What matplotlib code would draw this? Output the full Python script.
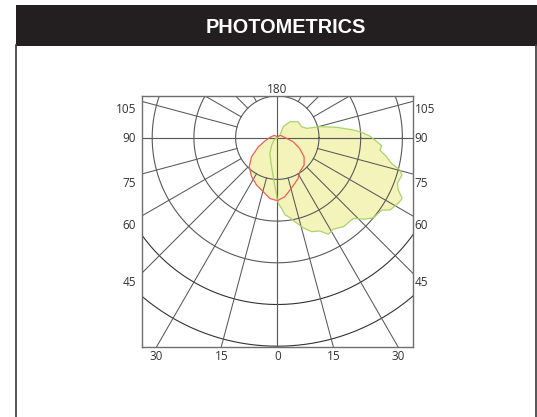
import matplotlib
matplotlib.use("Agg")
import matplotlib.pyplot as plt
import numpy as np

title = "PHOTOMETRICS"

# signed angle from nadir (positive = right side), intensity in ring units
green_angle = [180, 135, 151.4, 141.6, 127.3, 114.3, 107.7, 104.5, 99.9, 95.8, 93.6, 91, 87.7, 85.6, 83.1, 80.1, 77.3, 75.2, 73.3, 69.2, 66.6, 64.1, 61.5, 57.3, 55.3, 50.2, 47.1, 43.3, 36.6, 31.5, 27.8, 24.6, 20.1, 16.1, 11.9, 9, 5.7, 3.5, 1.4, 0, -0.7, -5.9, -13.9, -25.1, -37.7, -58, -180]
green_value = [0, 0.09, 0.30, 0.49, 0.63, 0.64, 0.74, 1.06, 1.45, 1.83, 2.03, 2.22, 2.39, 2.51, 2.48, 2.66, 2.81, 3.04, 3.12, 3.08, 3.16, 3.33, 3.30, 3.21, 3.05, 3.00, 2.87, 2.66, 2.66, 2.57, 2.62, 2.46, 2.40, 2.25, 2.06, 1.94, 1.86, 1.70, 1.60, 1.50, 1.38, 0.94, 0.63, 0.42, 0.22, 0.08, 0]

red_angle = [180, 126.4, 92.6, 75.7, 64.5, 54.5, 44.3, 33.3, 26.9, 15.4, 7.1, 0, -6.9, -14.5, -23.6, -33.4, -44, -53.5, -64.7, -74.9, -92.6, -126.4, -180]
red_value = [0.024, 0.094, 0.176, 0.39, 0.59, 0.79, 0.92, 0.98, 1.10, 1.26, 1.43, 1.51, 1.47, 1.34, 1.24, 1.12, 0.97, 0.77, 0.50, 0.31, 0.176, 0.094, 0.024]

ring_values = [1, 2, 3, 4, 5]
spoke_angles = np.arange(-180, 181, 15)

bottom_labels = ["30", "15", "0", "15", "30"]
bottom_angles = [-30, -15, 0, 15, 30]
side_labels = ["105", "90", "75", "60", "45"]
side_y_px = [109.5, 138.5, 183, 225.5, 282]

W, H = 537, 417
cx, cy = 277.3, 137.7
ring_px = 41.7
frame_l, frame_r, frame_t, frame_b = 141.7, 413, 95.7, 346.7


def to_xy(angle, value):
    a = np.radians(np.asarray(angle, dtype=float))
    v = np.asarray(value, dtype=float)
    return v * np.sin(a), -v * np.cos(a)


fig = plt.figure(figsize=(W / 100, H / 100), dpi=100)

# page level artists in pixel coordinates
page = fig.add_axes([0, 0, 1, 1])
page.set_xlim(0, W)
page.set_ylim(H, 0)
page.axis("off")
page.add_patch(plt.Rectangle((15.5, 5), 521, 40.5, color="#231f20", lw=0))
page.plot([16, 16], [45, 417], color="#3a3a3a", lw=1.2)
page.plot([536, 536], [45, 417], color="#3a3a3a", lw=1.2)
page.text(286, 27.5, title, color="white", ha="center", va="center", fontsize=14.3,
          fontweight="bold", family="Liberation Sans")

# chart axes in ring units, centred on the luminaire
ax = fig.add_axes([frame_l / W, 1 - frame_b / H, (frame_r - frame_l) / W, (frame_b - frame_t) / H])
ax.set_xlim((frame_l - cx) / ring_px, (frame_r - cx) / ring_px)
ax.set_ylim((cy - frame_b) / ring_px, (cy - frame_t) / ring_px)
ax.set_xticks([])
ax.set_yticks([])
for s in ax.spines.values():
    s.set_color("#6d6e71")
    s.set_linewidth(1)

gx, gy = to_xy(green_angle, green_value)
rx, ry = to_xy(red_angle, red_value)
ax.fill(gx, gy, color="#f4f3b9", lw=0, zorder=1)
ax.fill(rx, ry, color="#f4f3b9", lw=0, zorder=1)

t = np.linspace(0, 2 * np.pi, 361)
for v in ring_values:
    col = "#58595b" if v < 4 else "#333333"
    ax.plot(v * np.cos(t), v * np.sin(t), color=col, lw=0.8, zorder=2)
for a in spoke_angles:
    sx, sy = to_xy([a, a], [1, 8])
    ax.plot(sx, sy, color="#58595b", lw=0.75, zorder=2)
# axes through the centre
ax.plot([0, 0], [-8, 8], color="#58595b", lw=0.8, zorder=2)
ax.plot([-8, 8], [0, 0], color="#58595b", lw=0.8, zorder=2)

ax.plot(gx, gy, color="#a9d46f", lw=0.9, zorder=3)
ax.plot(rx, ry, color="#ee5f5b", lw=0.9, zorder=4)

lab = dict(fontsize=8.5, color="#333333", family="Open Sans", va="center")
for a, s in zip(bottom_angles, bottom_labels):
    page.text(cx + (frame_b - cy) * np.tan(np.radians(a)), 356.5, s, ha="center", **lab)
page.text(277.5, 89, "180", ha="center", **lab)
for y, s in zip(side_y_px, side_labels):
    page.text(136, y, s, ha="right", **lab)
    page.text(414.5, y, s, ha="left", **lab)

fig.savefig("out.png", dpi=100)
